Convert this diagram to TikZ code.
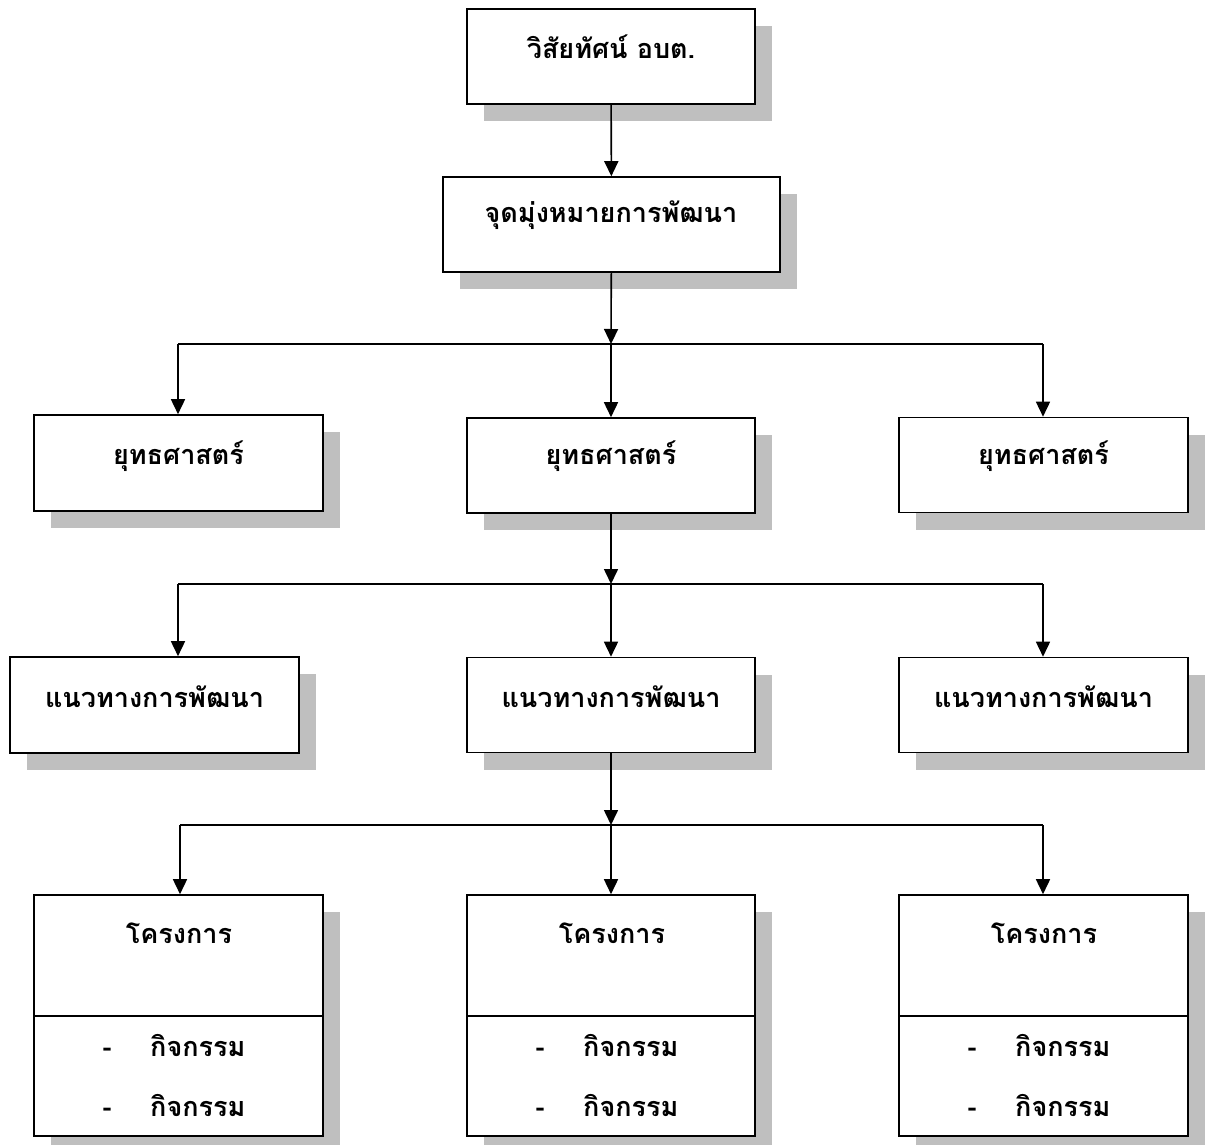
\documentclass[tikz,border=0pt]{standalone}
\usepackage{fontspec}
\newfontfamily\thaifont[Script=Thai]{Loma}
\usetikzlibrary{arrows.meta,shadows}
\begin{document}
\begin{tikzpicture}[x=1pt,y=-1pt,
  box/.style={draw=black, line width=1.6pt, fill=white, inner sep=0pt,
    minimum height=95pt,
    drop shadow={shadow xshift=17pt, shadow yshift=-17pt, fill=black!25, opacity=1}},
  txt/.style={font=\thaifont\bfseries\fontsize{27}{30}\selectfont, inner sep=0pt},
  arr/.style={line width=1.6pt, -{Triangle[width=14pt,length=15pt]}},
  ln/.style={line width=1.6pt}]
\useasboundingbox (0,0) rectangle (1210,1145);
% boxes
\node[box, minimum width=288pt] (v) at (611,56.5) {};
\node[box, minimum width=337pt] (g) at (611.5,224.5) {};
\node[box, minimum width=289pt, minimum height=96pt] (s1) at (178.5,463) {};
\node[box, minimum width=288pt] (s2) at (611,465.5) {};
\node[box, minimum width=289pt] (s3) at (1043.5,465) {};
\node[box, minimum width=289pt, minimum height=96pt] (d1) at (154.5,705) {};
\node[box, minimum width=288pt] (d2) at (611,705) {};
\node[box, minimum width=289pt] (d3) at (1043.5,705) {};
\node[box, minimum width=289pt, minimum height=241pt] (p1) at (178.5,1015.5) {};
\node[box, minimum width=288pt, minimum height=241pt] (p2) at (611,1015.5) {};
\node[box, minimum width=289pt, minimum height=241pt] (p3) at (1043.5,1015.5) {};
\foreach \p in {p1,p2,p3}{\draw[ln] (\p.west |- 0,1016) -- (\p.east |- 0,1016);}
% texts
\node[txt] (tv) at (611,47) {วิสัยทัศน์ อบต.};
\node[txt] (tg) at (611,215) {จุดมุ่งหมายการพัฒนา};
\node[txt] (ts1) at (178.5,456) {ยุทธศาสตร์};
\node[txt] (ts2) at (611,456) {ยุทธศาสตร์};
\node[txt] (ts3) at (1043.5,456) {ยุทธศาสตร์};
\node[txt] (td1) at (154.5,697) {แนวทางการพัฒนา};
\node[txt] (td2) at (611,697) {แนวทางการพัฒนา};
\node[txt] (td3) at (1043.5,697) {แนวทางการพัฒนา};
\foreach \p/\x in {p1/34,p2/467,p3/899}{
  \node[txt] (\p t) at (\x+145,933) {โครงการ};
  \node[txt] (\p da) at (\x+73,1052) {-};
  \node[txt, anchor=west] (\p a) at (\x+116,1045) {กิจกรรม};
  \node[txt] (\p db) at (\x+73,1112) {-};
  \node[txt, anchor=west] (\p b) at (\x+116,1105) {กิจกรรม};
}
% connectors
\coordinate (j1) at (611,344);
\coordinate (j1l) at (178,344);
\coordinate (j1r) at (1043,344);
\coordinate (j2) at (611,584);
\coordinate (j2l) at (178,584);
\coordinate (j2r) at (1043,584);
\coordinate (j3) at (611,825);
\coordinate (j3l) at (180,825);
\coordinate (j3r) at (1043,825);
\draw[arr] (v) -- (g);
\draw[arr] (g) -- (j1);
\draw[ln] (j1l) -- (j1r);
\draw[arr] (j1l) -- (j1l |- s1.north);
\draw[arr] (j1) -- (j1 |- s2.north);
\draw[arr] (j1r) -- (j1r |- s3.north);
\draw[arr] (s2) -- (j2);
\draw[ln] (j2l) -- (j2r);
\draw[arr] (j2l) -- (j2l |- d1.north);
\draw[arr] (j2) -- (j2 |- d2.north);
\draw[arr] (j2r) -- (j2r |- d3.north);
\draw[arr] (d2) -- (j3);
\draw[ln] (j3l) -- (j3r);
\draw[arr] (j3l) -- (j3l |- p1.north);
\draw[arr] (j3) -- (j3 |- p2.north);
\draw[arr] (j3r) -- (j3r |- p3.north);
\end{tikzpicture}
\end{document}
